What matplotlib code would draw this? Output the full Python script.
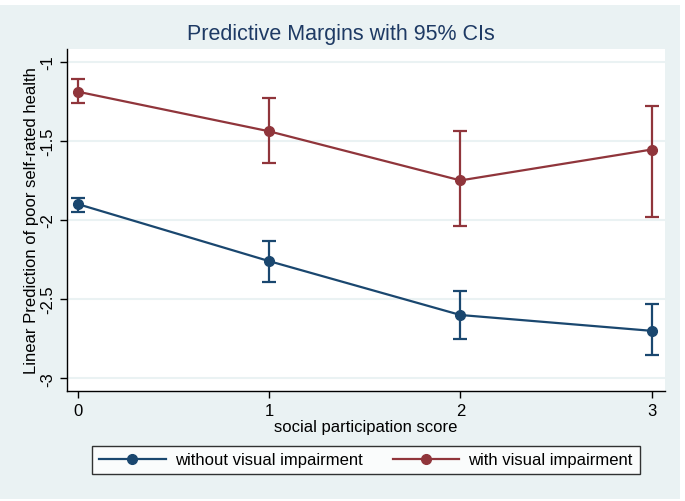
import matplotlib
matplotlib.use("Agg")
from matplotlib import pyplot as plt
from matplotlib.lines import Line2D
from matplotlib.patches import Rectangle

plt.rcParams['font.family'] = ['Liberation Sans', 'DejaVu Sans']

# data
score = [0, 1, 2, 3]
without_vi = [-1.90, -2.26, -2.60, -2.70]
without_lo = [-1.95, -2.39, -2.75, -2.855]
without_hi = [-1.86, -2.135, -2.45, -2.53]
with_vi = [-1.19, -1.44, -1.75, -1.555]
with_lo = [-1.26, -1.64, -2.04, -1.98]
with_hi = [-1.11, -1.23, -1.44, -1.28]
labels = ['without visual impairment', 'with visual impairment']

navy = '#1A476F'
maroon = '#90353B'
bg = '#EAF2F3'

fig = plt.figure(figsize=(6.85, 5.02), dpi=100)
fig.patch.set_facecolor('white')
fig.patches.append(Rectangle((0, 2/502), 680/685, 494/502, transform=fig.transFigure,
                             facecolor=bg, edgecolor='none', zorder=-10))

ax = fig.add_axes([67/685, 1 - 392/502, (665 - 67)/685, (392 - 50)/502])
ax.set_facecolor('white')

def draw(y, lo, hi, color):
	err = [[v - l for v, l in zip(y, lo)], [h - v for v, h in zip(y, hi)]]
	ax.errorbar(score, y, yerr=err, fmt='none', ecolor=color, elinewidth=1.6, capsize=5, capthick=1.6, zorder=3)
	ax.plot(score, y, color=color, linewidth=1.6, marker='o', markersize=7, zorder=4)

draw(without_vi, without_lo, without_hi, navy)
draw(with_vi, with_lo, with_hi, maroon)

ax.set_xlim(-0.058, 3.07)
ax.set_ylim(-3.08, -0.92)
ax.set_xticks(score)
ax.set_yticks([-1, -1.5, -2, -2.5, -3])
ax.set_yticklabels(['-1', '-1.5', '-2', '-2.5', '-3'], rotation=90, va='center')
ax.grid(axis='y', color=bg, linewidth=1.5)
ax.set_axisbelow(True)
for s in ['top', 'right']:
	ax.spines[s].set_visible(False)
for s in ['left', 'bottom']:
	ax.spines[s].set_linewidth(1.0)
ax.tick_params(direction='out', length=5, width=1, labelsize=12)
ax.set_xlabel('social participation score', fontsize=12, labelpad=1)
ax.set_ylabel('Linear Prediction of poor self-rated health', fontsize=12, labelpad=1)
fig.text(341/685, 1 - 35/502, 'Predictive Margins with 95% CIs',
         ha='center', va='center', fontsize=15.5, color='#1E3A64')

handles = [Line2D([], [], color=navy, marker='o', markersize=7, linewidth=1.6),
           Line2D([], [], color=maroon, marker='o', markersize=7, linewidth=1.6)]
leg = fig.legend(handles, labels, loc='center', bbox_to_anchor=(366/685, 1 - 461/502), ncol=2,
                 fontsize=12, frameon=True, fancybox=False, edgecolor='black', facecolor='white',
                 handlelength=4.0, handletextpad=0.55, columnspacing=1.8, borderpad=0.4,
                 borderaxespad=0)
leg.get_frame().set_linewidth(1.0)

fig.savefig('out.png', dpi=100)
